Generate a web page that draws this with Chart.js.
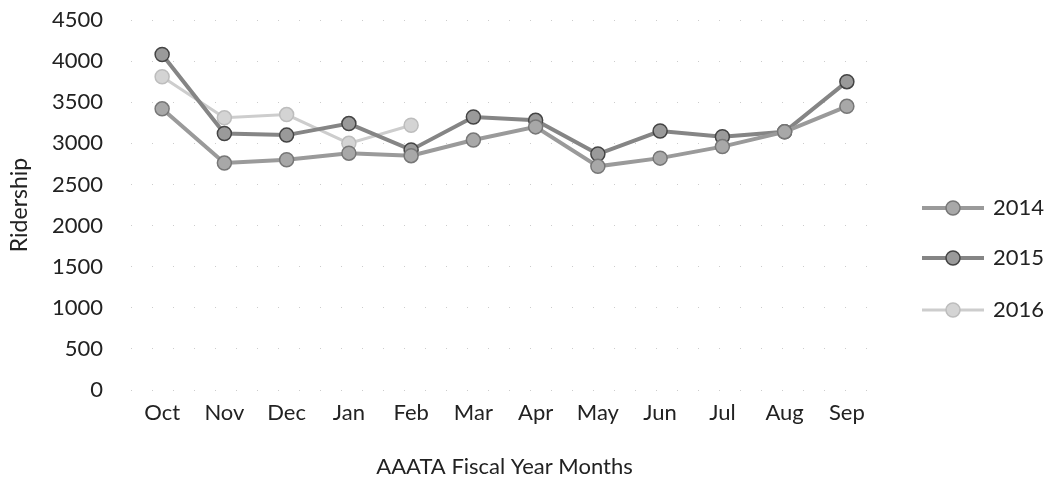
<!DOCTYPE html>
<html><head><meta charset="utf-8">
<script src="https://cdn.jsdelivr.net/npm/chart.js@4"></script>
<style>html,body{margin:0;padding:0;background:#fff}#wrap{width:1054px;height:490px}</style>
</head><body><div id="wrap"><canvas id="c" width="1054" height="490"></canvas></div>
<script>
const categories = ['Oct','Nov','Dec','Jan','Feb','Mar','Apr','May','Jun','Jul','Aug','Sep'];
const seriesLabels = ['2014','2015','2016'];
const values2014 = [3420,2760,2800,2880,2850,3040,3200,2720,2820,2960,3140,3450];
const values2015 = [4080,3120,3100,3240,2920,3320,3280,2870,3150,3080,3140,3750];
const values2016 = [3810,3310,3350,3000,3220];
const yTicks = [0,500,1000,1500,2000,2500,3000,3500,4000,4500];

Chart.defaults.font.family = 'Lato';
Chart.defaults.color = '#222';

const legendPlugin = {
  id: 'sideLegend',
  afterDraw(chart) {
    const ctx = chart.ctx;
    const ys = [208, 258, 310];
    chart.data.datasets.forEach((ds, i) => {
      const y = ys[i];
      ctx.save();
      ctx.strokeStyle = ds.borderColor;
      ctx.lineWidth = ds.borderWidth;
      ctx.beginPath(); ctx.moveTo(922, y); ctx.lineTo(984, y); ctx.stroke();
      ctx.beginPath(); ctx.arc(953, y, ds.pointRadius, 0, Math.PI * 2);
      ctx.fillStyle = ds.pointBackgroundColor; ctx.fill();
      ctx.lineWidth = ds.pointBorderWidth; ctx.strokeStyle = ds.pointBorderColor; ctx.stroke();
      ctx.fillStyle = '#222'; ctx.font = '22px Lato'; ctx.textBaseline = 'middle';
      ctx.fillText(ds.label, 993, y);
      ctx.restore();
    });
  }
};

new Chart(document.getElementById('c'), {
  type: 'line',
  data: {
    labels: categories,
    datasets: [
      { label: seriesLabels[0], data: values2014, borderColor: '#9a9a9a', borderWidth: 4,
        pointRadius: 7, pointBackgroundColor: '#a8a8a8', pointBorderColor: '#777', pointBorderWidth: 1.5, tension: 0 },
      { label: seriesLabels[1], data: values2015, borderColor: '#858585', borderWidth: 4,
        pointRadius: 7, pointBackgroundColor: '#9a9a9a', pointBorderColor: '#444', pointBorderWidth: 1.5, tension: 0 },
      { label: seriesLabels[2], data: values2016, borderColor: '#cdcdcd', borderWidth: 3,
        pointRadius: 7, pointBackgroundColor: '#d4d4d4', pointBorderColor: '#bdbdbd', pointBorderWidth: 1.5, tension: 0 }
    ]
  },
  options: {
    responsive: false, animation: false, devicePixelRatio: 1,
    layout: { padding: { top: 20, right: 176, left: 0, bottom: 0 } },
    plugins: { legend: { display: false }, tooltip: { enabled: false } },
    scales: {
      x: {
        type: 'category', offset: true,
        grid: { display: false, drawTicks: false },
        border: { display: false },
        ticks: { padding: 10, font: { size: 22 }, color: '#222', maxRotation: 0, autoSkip: false },
        title: { display: true, text: 'AAATA Fiscal Year Months', font: { size: 22 }, color: '#222', padding: { top: 8, bottom: 10 } },
        afterFit: s => { s.height = 100; s.paddingLeft = 0; s.paddingRight = 0; }
      },
      y: {
        min: 0, max: 4500,
        afterBuildTicks: s => { s.ticks = yTicks.map(v => ({ value: v })); },
        grid: { color: '#cccccc', drawTicks: false, lineWidth: 1 },
        border: { display: false, dash: [1, 20] },
        ticks: { padding: 28, font: { size: 22 }, color: '#222', callback: v => String(v) },
        title: { display: true, text: 'Ridership', font: { size: 23 }, color: '#222', padding: { top: 6, bottom: 0 } },
        afterFit: s => { s.width = 131; s.paddingTop = 0; s.paddingBottom = 0; }
      }
    }
  },
  plugins: [legendPlugin]
});
</script></body></html>
